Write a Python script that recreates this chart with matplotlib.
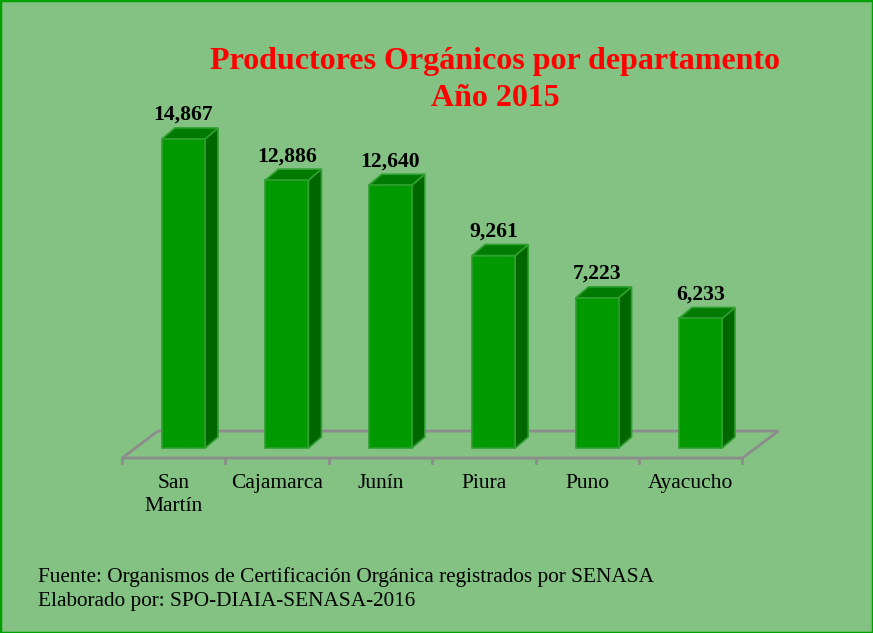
import matplotlib
matplotlib.use("Agg")
import matplotlib.pyplot as plt
from matplotlib.patches import Polygon, Rectangle

# Data
departamentos = ["San\nMartín", "Cajamarca", "Junín", "Piura", "Puno", "Ayacucho"]
productores = [14867, 12886, 12640, 9261, 7223, 6233]
etiquetas = ["14,867", "12,886", "12,640", "9,261", "7,223", "6,233"]

bg = "#83c283"
front_c = "#009900"
side_c = "#006600"
top_c = "#007a00"
edge_c = "#2f9f2f"
floor_c = "#8c8c8c"

fig = plt.figure(figsize=(8.73, 6.33), dpi=100)
fig.patch.set_facecolor(bg)
fig.patches.append(Rectangle((0, 0), 1, 1, transform=fig.transFigure,
                             fill=False, edgecolor="#00a000", linewidth=2.5))

ax = fig.add_axes([0.09175, 0.2265, 0.8291, 0.5912])
ax.set_xlim(-1, 6)
ax.set_ylim(-2000, 16000)
ax.axis("off")
ax.patch.set_alpha(0)

# pixel -> data conversion for the 3D depth offsets
px_x = 7 / 723.8
px_y = 18000 / 374.2
bar_w = 0.416
ddx, ddy = 13 * px_x, 11 * px_y          # bar depth
fdx, fdy = 36 * px_x, 27 * px_y          # floor depth
front_y = -10 * px_y
x0 = -0.5 - 0.095
n = len(departamentos)

# floor (parallelogram outline)
fl = [(x0, front_y), (x0 + n, front_y), (x0 + n + fdx, front_y + fdy), (x0 + fdx, front_y + fdy)]
ax.add_patch(Polygon(fl, closed=True, fill=False, edgecolor=floor_c, linewidth=2, zorder=1))
for k in range(n + 1):
    ax.plot([x0 + k, x0 + k], [front_y, front_y - 5 * px_y], color=floor_c, lw=2, zorder=1)

# bars
ax.bar(range(n), productores, width=bar_w, color=front_c, edgecolor=edge_c, linewidth=1.2, zorder=3)
for i, v in enumerate(productores):
    xr = i + bar_w / 2
    xl = i - bar_w / 2
    side = [(xr, 0), (xr + ddx, ddy), (xr + ddx, v + ddy), (xr, v)]
    top = [(xl, v), (xr, v), (xr + ddx, v + ddy), (xl + ddx, v + ddy)]
    ax.add_patch(Polygon(side, closed=True, facecolor=side_c, edgecolor=edge_c, linewidth=1.2, zorder=2))
    ax.add_patch(Polygon(top, closed=True, facecolor=top_c, edgecolor=edge_c, linewidth=1.2, zorder=2))
    ax.annotate(etiquetas[i], (i, v), xytext=(0, 24), textcoords="offset pixels",
                ha="center", va="center", fontsize=15.6, fontweight="bold",
                family="Liberation Serif", color="black", annotation_clip=False)

# category labels
for i, name in enumerate(departamentos):
    ax.text(i - 0.095, front_y - 16 * px_y, name, ha="center", va="top",
            fontsize=15.5, family="Liberation Serif", linespacing=1.26)

fig.text(0.567, 1 - 80 / 633, "Productores Orgánicos por departamento\nAño 2015", ha="center", va="center",
         fontsize=23, fontweight="bold", color="#ff0000", family="Liberation Serif",
         linespacing=1.38)

fig.text(0.0435, 1 - 589 / 633, "Fuente: Organismos de Certificación Orgánica registrados por SENASA\n"
         "Elaborado por: SPO-DIAIA-SENASA-2016", ha="left", va="center",
         fontsize=15.3, family="Liberation Serif", linespacing=1.32)

fig.savefig("out.png", dpi=100, facecolor=bg)
